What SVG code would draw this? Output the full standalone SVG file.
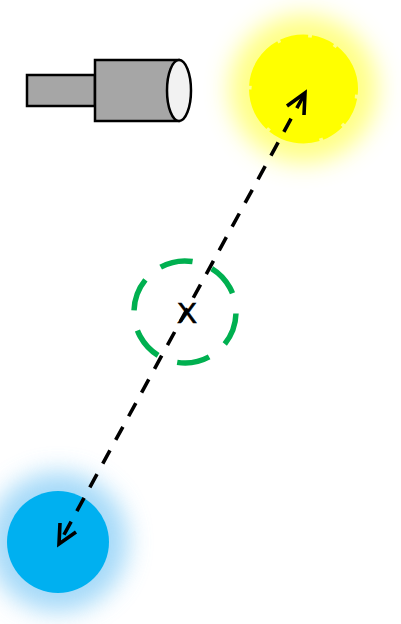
<svg xmlns="http://www.w3.org/2000/svg" width="401" height="624" viewBox="0 0 401 624">
<style>
.cam{fill:#a6a6a6;stroke:#000;stroke-width:2.5}
.conn{fill:none;stroke:#000;stroke-width:3.6;stroke-dasharray:15 12}
.head{fill:none;stroke:#000;stroke-width:3.6;stroke-linecap:butt;stroke-linejoin:miter}
.lbl{font-family:"Liberation Sans",Arial,sans-serif;font-size:30px;fill:#000;stroke:#000;stroke-width:0.6;text-anchor:middle}
</style>
<defs>
<filter id="glow" x="-60%" y="-60%" width="220%" height="220%">
<feGaussianBlur stdDeviation="12"/>
</filter>
</defs>
<rect width="401" height="624" fill="#fff"/>
<g id="camera">
<rect class="cam" x="27" y="75" width="68" height="31"/>
<rect class="cam" x="95" y="60" width="84" height="61"/>
<ellipse cx="179" cy="90.5" rx="12" ry="30.5" fill="#f2f2f2" stroke="#000" stroke-width="2.5"/>
</g>
<g id="yellow-source">
<circle cx="303.5" cy="89" r="74" fill="#ffff70" opacity="0.85" filter="url(#glow)"/>
<circle cx="303.5" cy="89" r="52" fill="#ffff00" stroke="#ffff00" stroke-width="5" stroke-dasharray="27.68 3.63 22.69 3.63 52.64 3.63 27.23 3.63 22.24 3.63 50.83 3.63 42.2 3.63 52.19 3.63" transform="rotate(-115.5 303.5 89)"/>
</g>
<g id="blue-source">
<circle cx="58" cy="542" r="70" fill="#8fd0f7" opacity="0.8" filter="url(#glow)"/>
<circle cx="58" cy="542" r="51" fill="#00b0f0"/>
</g>
<g id="target">
<circle cx="185" cy="312" r="51" fill="none" stroke="#00b050" stroke-width="5.5" stroke-dasharray="32.93 20.47" transform="rotate(-118.5 185 312)"/>
<text class="lbl" x="187" y="323">X</text>
</g>
<g id="connectors">
<line class="conn" x1="304" y1="95" x2="60" y2="542"/>
<polyline class="head" points="287,106 305,93 304,115"/>
<polyline class="head" points="60,523 59,544 76,532"/>
</g>
</svg>
